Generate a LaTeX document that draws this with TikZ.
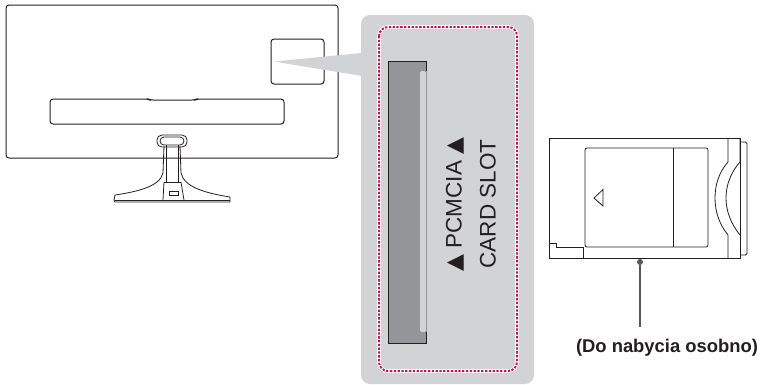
\documentclass[tikz,border=0pt]{standalone}
\usepackage{fontspec}
\setmainfont{Liberation Sans}
\newfontfamily\symfont{DejaVu Sans}
\usepackage{tikz}
\usetikzlibrary{arrows.meta}
\usetikzlibrary{positioning}
\definecolor{PanelGray}{RGB}{209,211,212}
\definecolor{SlotGray}{RGB}{147,149,152}
\definecolor{DotRed}{RGB}{200,20,80}
\definecolor{LineGray}{RGB}{35,31,32}
\definecolor{LeadGray}{RGB}{88,89,91}
\tikzset{
	outl/.style={line width=1pt, draw=LineGray, rounded corners=3pt},
	thin outl/.style={line width=0.8pt, draw=LineGray},
	panel/.style={fill=PanelGray, draw=none},
	slotlab/.style={rotate=90, inner sep=0pt, text=LineGray, font=\fontsize{22.5}{24}\selectfont},
	capt/.style={inner sep=1pt, font=\fontsize{18.4}{20}\selectfont\bfseries, text=LineGray},
	pt/.style={circle, fill=LeadGray, inner sep=0pt, minimum size=6pt}
}

\begin{document}
\begin{tikzpicture}[x=1pt, y=-1pt]
		\useasboundingbox (0,0) rectangle (764,384);
		% monitor
		\draw[outl] (6,5) rectangle (338,158);
		\draw[outl] (271,39) rectangle (324,84);
		\draw[outl] (50,99) -- (148,99) -- (150,100) -- (195,100) -- (197,99) -- (284,99) -- (284,124) -- (50,124) -- cycle;
		% stand
		\draw[thin outl, rounded corners=5pt] (157,135) rectangle (187,147);
		\draw[thin outl, rounded corners=4pt] (160,137) rectangle (184,145);
		\draw[thin outl] (166,145) -- (166,182);
		\draw[thin outl] (178,145) -- (178,182);
		\draw[thin outl] (164,146) -- (163,173) .. controls (160,187) and (135,192) .. (115,195) -- (114,200) -- (115,202) -- (230,202) -- (230,197) .. controls (205,193) and (184,187) .. (181,173) -- (180,146);
		\draw[thin outl] (115,200) -- (230,200);
		\draw[thin outl] (164,182) -- (181,182);
		\draw[thin outl] (164,182) -- (163,200);
		\draw[thin outl] (181,182) -- (184,200);
		\draw[thin outl] (169,191) rectangle (178,195);
		% callout
		\fill[PanelGray] (274,61.5) -- (362,53) -- (362,76) -- cycle;
		\fill[panel, rounded corners=9pt] (361,15) rectangle (534,384);
		\draw[white, line width=3.6pt, rounded corners=9pt] (379,27) rectangle (517,371);
		\draw[DotRed, line width=2pt, dash pattern=on 2.3pt off 1.5pt, rounded corners=9pt] (379,27) rectangle (517,371);
		% slot
		\fill[SlotGray] (388,61) rectangle (426,343);
		\fill[PanelGray, rounded corners=1.5pt] (420,71) rectangle (426,332);
		\draw[line width=0.6pt, LineGray] (426,71) -- (426,61) -- (388,61) -- (388,343) -- (426,343) -- (426,332);
		\draw[line width=0.4pt, SlotGray] (426,71) -- (426,332);
		\node[slotlab] (pcmcia) at (455,204.5) {{\symfont\fontsize{22}{24}\selectfont ▲} PCMCIA {\symfont\fontsize{22}{24}\selectfont ▲}};
		\node[slotlab] (cardslot) at (488,204) {CARD SLOT};
		% card
		\draw[thin outl] (549.5,138) rectangle (740,258);
		\draw[thin outl, rounded corners=2pt] (585,148) rectangle (708,247);
		\draw[thin outl] (673,148) -- (673,247);
		\draw[thin outl] (594,198) -- (603,189.5) -- (603,206) -- cycle;
		\draw[thin outl] (549.5,243) -- (556,243) -- (556,247) -- (583.5,247) -- (583.5,258);
		\draw[thin outl] (728,138) -- (728,162) .. controls (719,172) and (715,185) .. (715,198) .. controls (715,211) and (719,224) .. (728,235) -- (728,258);
		\draw[thin outl] (740,138) -- (740,162) .. controls (731,172) and (726,185) .. (726,198) .. controls (726,211) and (731,224) .. (740,235);
		\draw[thin outl, rounded corners=1.5pt] (740,142) -- (747,142) -- (747,255) -- (740,255);
		% label
		\node[pt] (carddot) at (640,262) {};
		\node[capt, anchor=north] (partlab) at (667,338) {(Do nabycia osobno)};
		\coordinate (leadend) at (640,327);
		\draw[line width=1.6pt, LeadGray] (carddot) -- (leadend);
	\end{tikzpicture}
\end{document}
